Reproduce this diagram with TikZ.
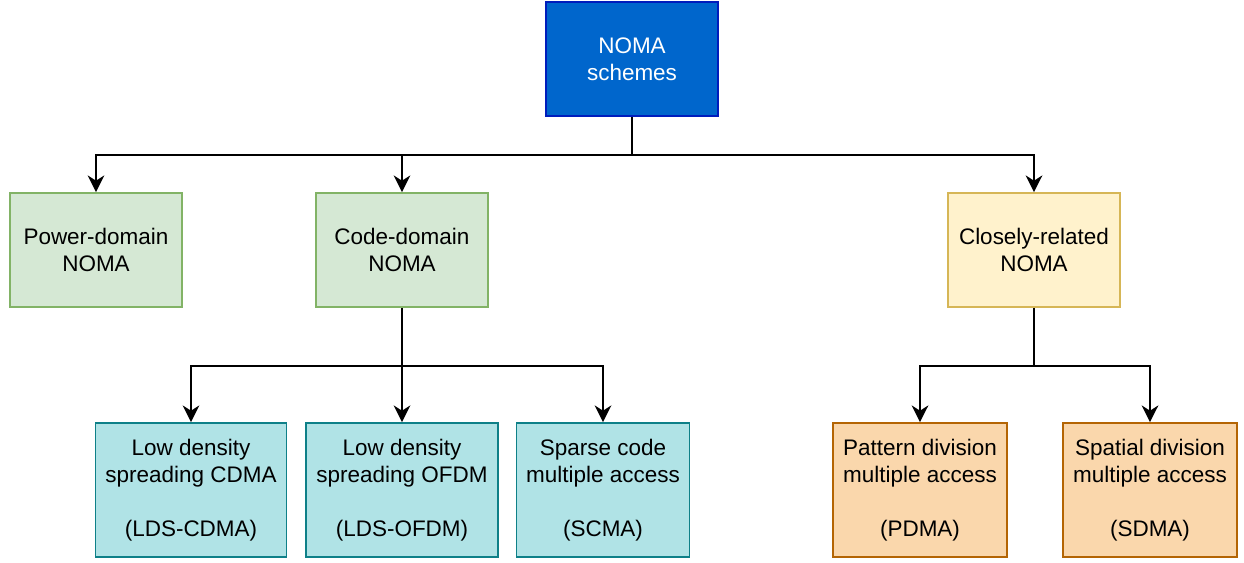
\documentclass[tikz,border=0pt]{standalone}
\usepackage{fontspec}
\setmainfont{Liberation Sans}
\usepackage{xcolor}
\usetikzlibrary{arrows.meta}

\definecolor{topfill}{HTML}{0066CC}
\definecolor{topline}{HTML}{001DBC}
\definecolor{greenfill}{HTML}{D5E8D4}
\definecolor{greenline}{HTML}{82B366}
\definecolor{yellowfill}{HTML}{FFF2CC}
\definecolor{yellowline}{HTML}{D6B656}
\definecolor{tealfill}{HTML}{B0E3E6}
\definecolor{tealline}{HTML}{0E8088}
\definecolor{orangefill}{HTML}{FAD7AC}
\definecolor{orangeline}{HTML}{B46504}

\begin{document}
\begin{tikzpicture}[x=0.02cm,y=-0.02cm,
	font=\fontsize{12.8}{15.3}\selectfont]
			\useasboundingbox (0,0) rectangle (1244,563);
			\begin{scope}[every node/.style={rectangle,draw,line width=1pt,align=center,
				minimum width=3.44cm,minimum height=2.28cm}]
				\node[fill=topfill,draw=topline,text=white] (S) at (632,59) {NOMA\\schemes};
				\node[fill=greenfill,draw=greenline] (P) at (96,250) {Power-domain\\NOMA};
				\node[fill=greenfill,draw=greenline] (C) at (402,250) {Code-domain\\NOMA};
				\node[fill=yellowfill,draw=yellowline] (R) at (1034,250) {Closely-related\\NOMA};
			\end{scope}
			\begin{scope}[every node/.style={rectangle,draw,line width=1pt,align=center,
				minimum height=2.68cm}]
				\node[fill=tealfill,draw=tealline,minimum width=3.82cm] (C1) at (191,490) {Low density\\spreading CDMA\\[15.3pt](LDS-CDMA)};
				\node[fill=tealfill,draw=tealline,minimum width=3.84cm] (C2) at (402,490) {Low density\\spreading OFDM\\[15.3pt](LDS-OFDM)};
				\node[fill=tealfill,draw=tealline,minimum width=3.46cm] (C3) at (603,490) {Sparse code\\multiple access\\[15.3pt](SCMA)};
				\node[fill=orangefill,draw=orangeline,minimum width=3.48cm] (R1) at (920,490) {Pattern division\\multiple access\\[15.3pt](PDMA)};
				\node[fill=orangefill,draw=orangeline,minimum width=3.48cm] (R2) at (1150,490) {Spatial division\\multiple access\\[15.3pt](SDMA)};
			\end{scope}
			\coordinate (bS) at (632,155);
			\coordinate (bC) at (402,366);
			\coordinate (bR) at (1034,366);
			\begin{scope}[>={Stealth[length=9.5pt,width=9.5pt,inset=3pt]},
				conn/.style={draw=black,line width=1.2pt}]
				\draw [conn] (S.south) -- (bS);
				\draw [conn,->] (bS) -| (P.north);
				\draw [conn,->] (bS) -| (C.north);
				\draw [conn,->] (bS) -| (R.north);
				\draw [conn] (C.south) -- (bC);
				\draw [conn,->] (bC) -| (C1.north);
				\draw [conn,->] (bC) -- (C2.north);
				\draw [conn,->] (bC) -| (C3.north);
				\draw [conn] (R.south) -- (bR);
				\draw [conn,->] (bR) -| (R1.north);
				\draw [conn,->] (bR) -| (R2.north);
			\end{scope}
		\end{tikzpicture}
\end{document}
